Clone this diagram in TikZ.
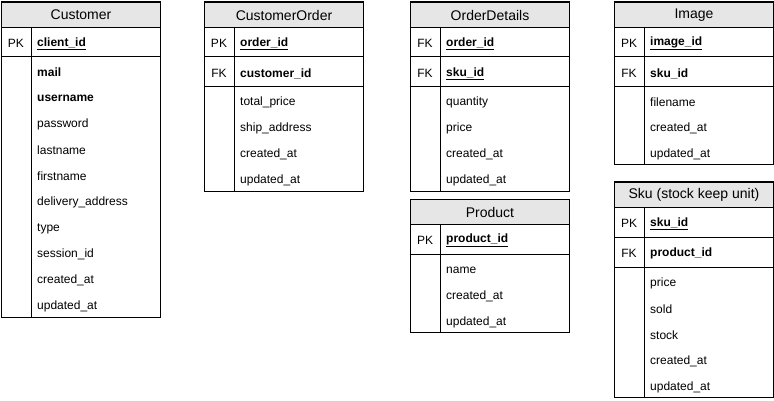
\documentclass[tikz,border=0pt]{standalone}
\usepackage{fontspec}
\setmainfont{Liberation Sans}
\definecolor{hdrgray}{HTML}{E6E6E6}
\newcommand\ertab[6]{%
  \pgfmathsetmacro\tabh{25+30*#5+26*#6}%
  \draw[frame] (#2,#3) rectangle ++(159,\tabh);
  \node[hdr, anchor=north west] (#1) at (#2,#3) {#4};
  \draw[frame] (#2+30,#3+25) -- ++(0,\tabh-25);
  \foreach \k in {1,...,#5} {\draw[frame] (#2,#3+25+30*\k) -- ++(159,0);}
}
\newcommand\ulb[1]{\underline{\textbf{#1}}}
\begin{document}
\begin{tikzpicture}[x=1pt,y=-1pt,
  frame/.style={draw=black,line width=1pt},
  hdr/.style={draw=black,line width=1pt,fill=hdrgray,minimum width=159pt,minimum height=25pt,inner sep=0pt,font=\fontsize{14}{16}\selectfont},
  tag/.style={inner sep=0pt,yshift=-1.5pt,font=\fontsize{12}{14}\selectfont},
  fld/.style={anchor=west,inner sep=0pt,yshift=-1.5pt,font=\fontsize{12}{14}\selectfont}]
\useasboundingbox (0,0) rectangle (774,401);
% Customer
\ertab{cust}{1}{2}{Customer}{1}{10}
\node[tag] (cust-pk) at (16,42) {PK};
\node[fld] (cust-id) at (37,42) {\ulb{client\_id}};
\node[fld] (cust-f1) at (37,71) {\textbf{mail}};
\node[fld] (cust-f2) at (37,97) {\textbf{username}};
\node[fld] (cust-f3) at (37,123) {password};
\node[fld] (cust-f4) at (37,149) {lastname};
\node[fld] (cust-f5) at (37,175) {firstname};
\node[fld] (cust-f6) at (37,201) {delivery\_address};
\node[fld] (cust-f7) at (37,227) {type};
\node[fld] (cust-f8) at (37,253) {session\_id};
\node[fld] (cust-f9) at (37,279) {created\_at};
\node[fld] (cust-f10) at (37,305) {updated\_at};
% CustomerOrder
\ertab{co}{204}{2}{CustomerOrder}{2}{4}
\node[tag] (co-pk) at (219,42) {PK};
\node[fld] (co-id) at (240,42) {\ulb{order\_id}};
\node[tag] (co-fk) at (219,72) {FK};
\node[fld] (co-cid) at (240,72) {\textbf{customer\_id}};
\node[fld] (co-f1) at (240,101) {total\_price};
\node[fld] (co-f2) at (240,127) {ship\_address};
\node[fld] (co-f3) at (240,153) {created\_at};
\node[fld] (co-f4) at (240,179) {updated\_at};
% OrderDetails
\ertab{od}{410}{2}{OrderDetails}{2}{4}
\node[tag] (od-fk1) at (425,42) {FK};
\node[fld] (od-oid) at (446,42) {\ulb{order\_id}};
\node[tag] (od-fk2) at (425,72) {FK};
\node[fld] (od-sid) at (446,72) {\ulb{sku\_id}};
\node[fld] (od-f1) at (446,101) {quantity};
\node[fld] (od-f2) at (446,127) {price};
\node[fld] (od-f3) at (446,153) {created\_at};
\node[fld] (od-f4) at (446,179) {updated\_at};
% Product
\ertab{pr}{410}{199}{Product}{1}{3}
\node[tag] (pr-pk) at (425,239) {PK};
\node[fld] (pr-id) at (446,239) {\ulb{product\_id}};
\node[fld] (pr-f1) at (446,269) {name};
\node[fld] (pr-f2) at (446,295) {created\_at};
\node[fld] (pr-f3) at (446,321) {updated\_at};
% Image
\ertab{im}{614}{2}{Image}{2}{3}
\node[tag] (im-pk) at (629,42) {PK};
\node[fld] (im-id) at (650,42) {\ulb{image\_id}};
\node[tag] (im-fk) at (629,72) {FK};
\node[fld] (im-sid) at (650,72) {\textbf{sku\_id}};
\node[fld] (im-f1) at (650,101) {filename};
\node[fld] (im-f2) at (650,127) {created\_at};
\node[fld] (im-f3) at (650,153) {updated\_at};
% Sku
\ertab{sku}{614}{182}{Sku (stock keep unit)}{2}{5}
\node[tag] (sku-pk) at (629,222) {PK};
\node[fld] (sku-id) at (650,222) {\ulb{sku\_id}};
\node[tag] (sku-fk) at (629,252) {FK};
\node[fld] (sku-pid) at (650,252) {\textbf{product\_id}};
\node[fld] (sku-f1) at (650,282) {price};
\node[fld] (sku-f2) at (650,308) {sold};
\node[fld] (sku-f3) at (650,334) {stock};
\node[fld] (sku-f4) at (650,360) {created\_at};
\node[fld] (sku-f5) at (650,386) {updated\_at};
\end{tikzpicture}
\end{document}
